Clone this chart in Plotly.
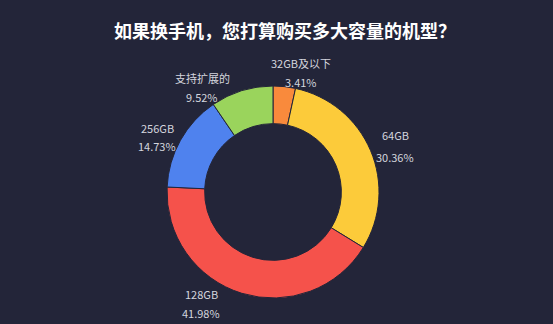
import plotly.graph_objects as go

categories = ["32GB及以下", "64GB", "128GB", "256GB", "支持扩展的"]
values = [3.41, 30.36, 41.98, 14.73, 9.52]
pct_labels = ["3.41%", "30.36%", "41.98%", "14.73%", "9.52%"]
colors = ["#f98a3c", "#fccb3a", "#f5524b", "#4f82ee", "#9ad45c"]

W, H = 553, 324
BG = "#232539"

fig = go.Figure(go.Pie(
    labels=categories, values=values, sort=False, direction="clockwise", rotation=0,
    hole=0.645, textinfo="none", hoverinfo="label+percent",
    marker=dict(colors=colors, line=dict(color=BG, width=1)),
    domain=dict(x=[(273 - 106) / W, (273 + 106) / W], y=[1 - (192 + 106) / H, 1 - (192 - 106) / H]),
    showlegend=False,
))

# label anchor pixel positions (layout only)
label_pos = [(301, 63, 82), (395, 135, 157), (201, 294, 313), (157, 128, 146), (202, 78, 97)]
anns = []
for cat, pct, (x, y1, y2) in zip(categories, pct_labels, label_pos):
    for txt, yy in ((cat, y1), (pct, y2)):
        anns.append(dict(x=x / W, y=1 - yy / H, xref="paper", yref="paper", text=txt,
                         showarrow=False, xanchor="center", yanchor="middle",
                         font=dict(family="Noto Sans CJK SC", size=11, color="#d4d5de")))

anns.append(dict(x=285 / W, y=1 - 30 / H, xref="paper", yref="paper",
                 text="<b>如果换手机，您打算购买多大容量的机型？</b>", showarrow=False,
                 xanchor="center", yanchor="middle",
                 font=dict(family="Noto Sans CJK SC", size=18, color="#ffffff")))

fig.update_layout(width=W, height=H, margin=dict(l=0, r=0, t=0, b=0),
                  paper_bgcolor=BG, plot_bgcolor=BG, annotations=anns)
fig.write_html("out.html", config={"displayModeBar": False},
               post_script="document.body.style.margin='0';document.body.style.overflow='hidden';document.body.style.background='" + BG + "';")
